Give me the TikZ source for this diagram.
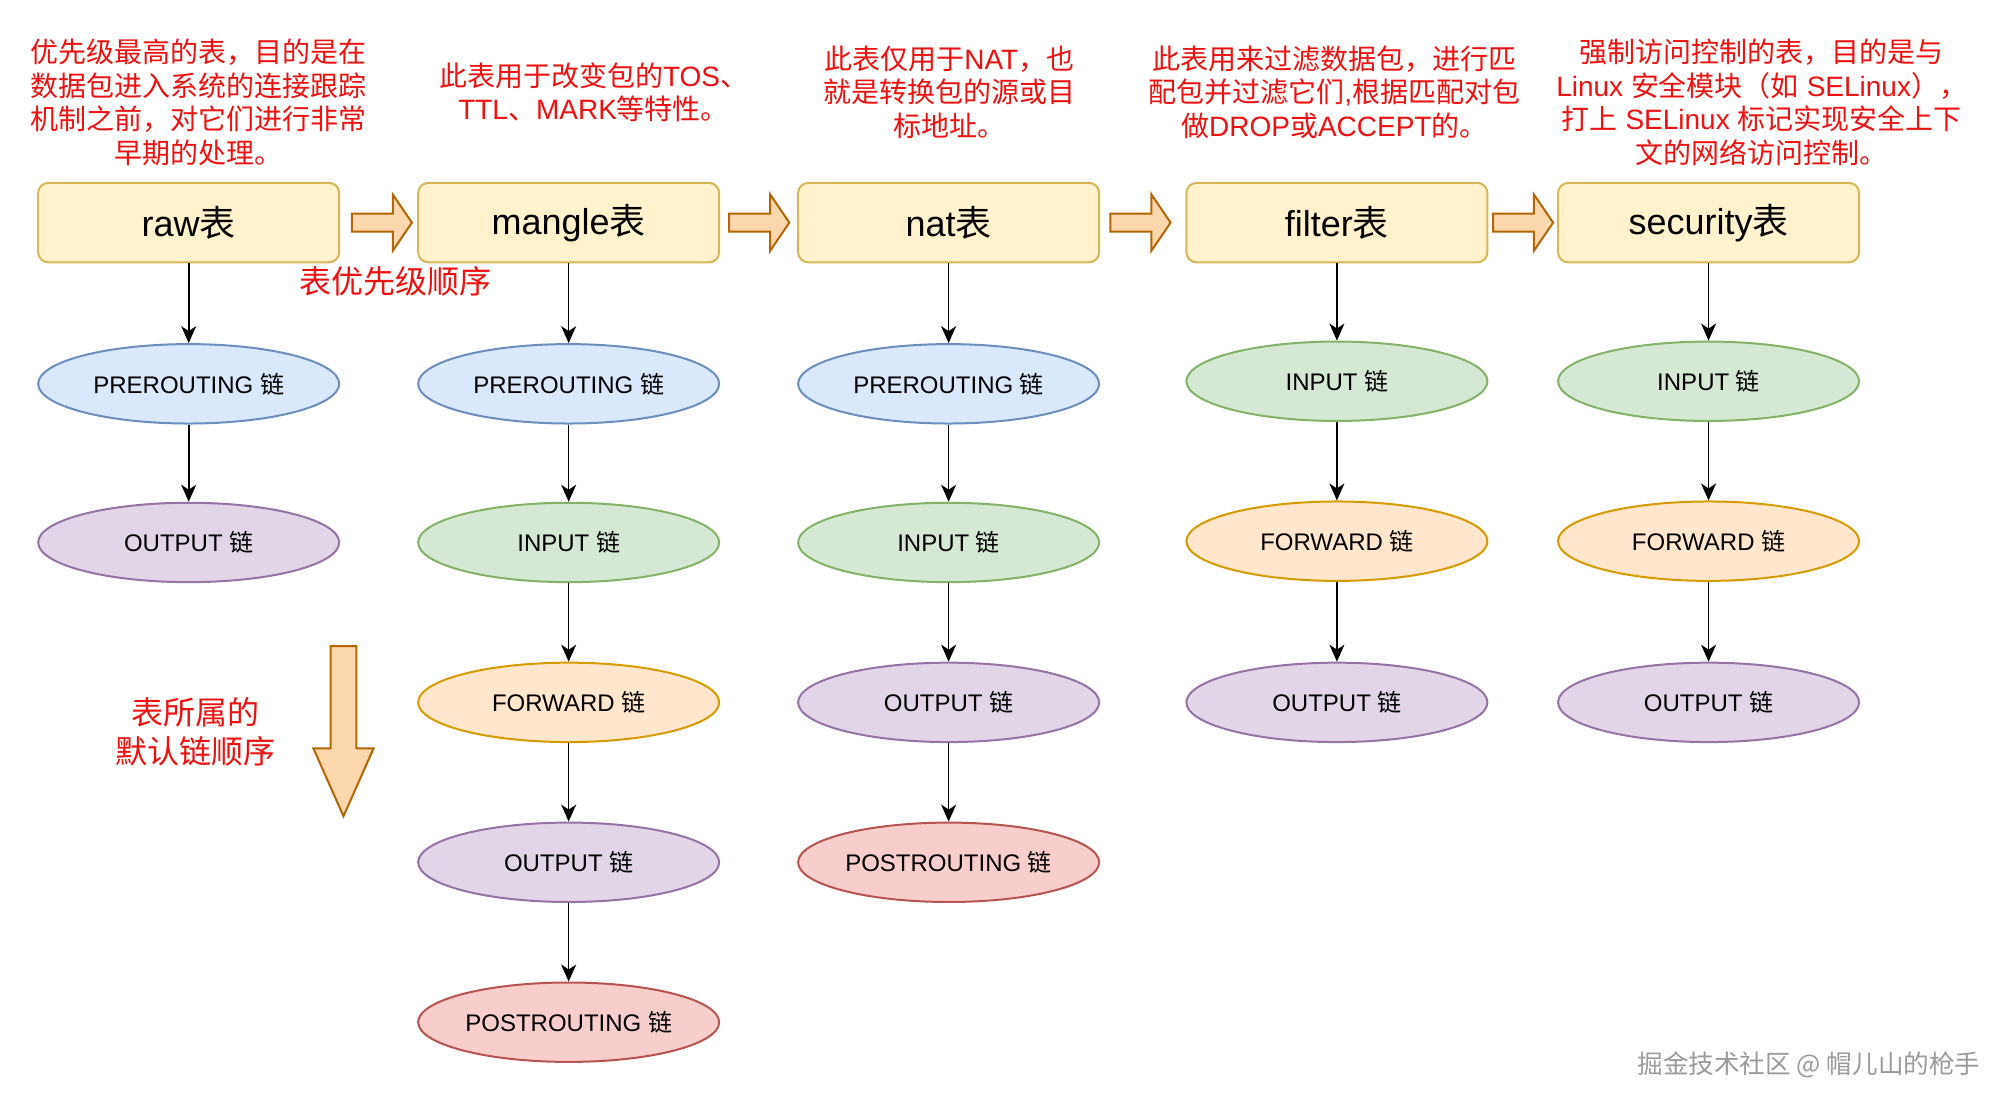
\documentclass[tikz,border=0pt]{standalone}
\usepackage{fontspec}
\setmainfont{Liberation Sans}
\newfontfamily\zh{Noto Sans CJK SC}
\newfontfamily\la{Liberation Sans}
\usetikzlibrary{shapes.geometric,arrows.meta}

\definecolor{tablefill}{HTML}{FFF2CC}
\definecolor{tabledraw}{HTML}{D6B656}
\definecolor{prefill}{HTML}{DAE8FC}
\definecolor{predraw}{HTML}{6C8EBF}
\definecolor{infill}{HTML}{D5E8D4}
\definecolor{indraw}{HTML}{82B366}
\definecolor{fwdfill}{HTML}{FFE6CC}
\definecolor{fwddraw}{HTML}{D79B00}
\definecolor{outfill}{HTML}{E1D5E7}
\definecolor{outdraw}{HTML}{9673A6}
\definecolor{postfill}{HTML}{F8CECC}
\definecolor{postdraw}{HTML}{B85450}
\definecolor{arrowfill}{HTML}{FAD7AC}
\definecolor{arrowdraw}{HTML}{B46504}
\definecolor{notered}{HTML}{EE1111}
\definecolor{markgray}{HTML}{9A9A9A}

\tikzset{
	tablebox/.style={
		rectangle, rounded corners=5pt,
		draw=tabledraw, fill=tablefill, line width=1pt,
		minimum width=150.5pt, minimum height=39.7pt, inner sep=0pt,
		font=\fontsize{18}{21}\selectfont
	},
	chain/.style={
		ellipse, line width=1pt,
		minimum width=150.5pt, minimum height=39.7pt, inner sep=0pt,
		font=\fontsize{12}{14}\selectfont
	},
	prechain/.style={chain, draw=predraw, fill=prefill},
	inchain/.style={chain, draw=indraw, fill=infill},
	fwdchain/.style={chain, draw=fwddraw, fill=fwdfill},
	outchain/.style={chain, draw=outdraw, fill=outfill},
	postchain/.style={chain, draw=postdraw, fill=postfill},
	note/.style={
		text=notered, align=center, inner sep=0pt,
		font=\zh\fontsize{14}{16.7}\selectfont
	},
	bignote/.style={
		text=notered, align=center, inner sep=0pt,
		font=\zh\fontsize{16}{19.3}\selectfont
	},
	flow/.style={-{Stealth[length=8.5pt,width=7.5pt,inset=2.5pt]}, line width=0.8pt},
	blockarrow/.style={fill=arrowfill, draw=arrowdraw, line width=1pt, line join=miter}
}

\begin{document}
\begin{tikzpicture}[x=0.6397pt, y=-0.6397pt]
	\useasboundingbox (0,0) rectangle (1568,866);

	% notes above the tables
	\node[note] (rawnote) at (155,80) {优先级最高的表，目的是在\\数据包进入系统的连接跟踪\\机制之前，对它们进行非常\\早期的处理。};
	\node[note] (manglenote) at (464,72) {此表用于改变包的{\la TOS}、\\{\la TTL}、{\la MARK}等特性。};
	\node[note] (natnote) at (742,72) {此表仅用于{\la NAT}，也\\就是转换包的源或目\\标地址。};
	\node[note] (filternote) at (1043,72) {此表用来过滤数据包，进行匹\\配包并过滤它们{\la ,}根据匹配对包\\做{\la DROP}或{\la ACCEPT}的。};
	\node[note] (secnote) at (1377,80) {强制访问控制的表，目的是与\\{\la Linux }安全模块（如{\la\ SELinux}），\\打上{\la\ SELinux }标记实现安全上下\\文的网络访问控制。};

	% tables
	\node[tablebox] (raw) at (147.5,174) {raw{\zh 表}};
	\node[tablebox] (mangle) at (444.5,174) {mangle{\zh 表}};
	\node[tablebox] (nat) at (741.5,174) {nat{\zh 表}};
	\node[tablebox] (filter) at (1045,174) {filter{\zh 表}};
	\node[tablebox] (security) at (1335.5,174) {security{\zh 表}};

	\foreach \s in {275,570,868,1167}
		\draw[blockarrow] (\s,167) -- (\s+32,167) -- (\s+32,152) -- (\s+47,174) -- (\s+32,196) -- (\s+32,181) -- (\s,181) -- cycle;

	\node[bignote] (ordertables) at (309,220) {表优先级顺序};

	% raw
	\node[prechain] (rawpre) at (147.5,300) {PREROUTING {\zh 链}};
	\node[outchain] (rawout) at (147.5,424) {OUTPUT {\zh 链}};
	\draw[flow] (raw) -- (rawpre);
	\draw[flow] (rawpre) -- (rawout);

	% mangle
	\node[prechain] (manglepre) at (444.5,300) {PREROUTING {\zh 链}};
	\node[inchain] (manglein) at (444.5,424) {INPUT {\zh 链}};
	\node[fwdchain] (manglefwd) at (444.5,549) {FORWARD {\zh 链}};
	\node[outchain] (mangleout) at (444.5,674) {OUTPUT {\zh 链}};
	\node[postchain] (manglepost) at (444.5,799) {POSTROUTING {\zh 链}};
	\draw[flow] (mangle) -- (manglepre);
	\draw[flow] (manglepre) -- (manglein);
	\draw[flow] (manglein) -- (manglefwd);
	\draw[flow] (manglefwd) -- (mangleout);
	\draw[flow] (mangleout) -- (manglepost);

	% nat
	\node[prechain] (natpre) at (741.5,300) {PREROUTING {\zh 链}};
	\node[inchain] (natin) at (741.5,424) {INPUT {\zh 链}};
	\node[outchain] (natout) at (741.5,549) {OUTPUT {\zh 链}};
	\node[postchain] (natpost) at (741.5,674) {POSTROUTING {\zh 链}};
	\draw[flow] (nat) -- (natpre);
	\draw[flow] (natpre) -- (natin);
	\draw[flow] (natin) -- (natout);
	\draw[flow] (natout) -- (natpost);

	% filter
	\node[inchain] (filterin) at (1045,298) {INPUT {\zh 链}};
	\node[fwdchain] (filterfwd) at (1045,423) {FORWARD {\zh 链}};
	\node[outchain] (filterout) at (1045,549) {OUTPUT {\zh 链}};
	\draw[flow] (filter) -- (filterin);
	\draw[flow] (filterin) -- (filterfwd);
	\draw[flow] (filterfwd) -- (filterout);

	% security
	\node[inchain] (secin) at (1335.5,298) {INPUT {\zh 链}};
	\node[fwdchain] (secfwd) at (1335.5,423) {FORWARD {\zh 链}};
	\node[outchain] (secout) at (1335.5,549) {OUTPUT {\zh 链}};
	\draw[flow] (security) -- (secin);
	\draw[flow] (secin) -- (secfwd);
	\draw[flow] (secfwd) -- (secout);

	% default chain order
	\draw[blockarrow] (258.5,505) -- (278.5,505) -- (278.5,585) -- (292,585) -- (268.5,638) -- (245,585) -- (258.5,585) -- cycle;
	\node[bignote] (orderchains) at (153,572) {表所属的\\默认链顺序};

	\node[text=markgray, inner sep=0pt, font=\zh\fontsize{12.8}{15}\selectfont] (mark) at (1414,832) {掘金技术社区 @ 帽儿山的枪手};
\end{tikzpicture}
\end{document}
